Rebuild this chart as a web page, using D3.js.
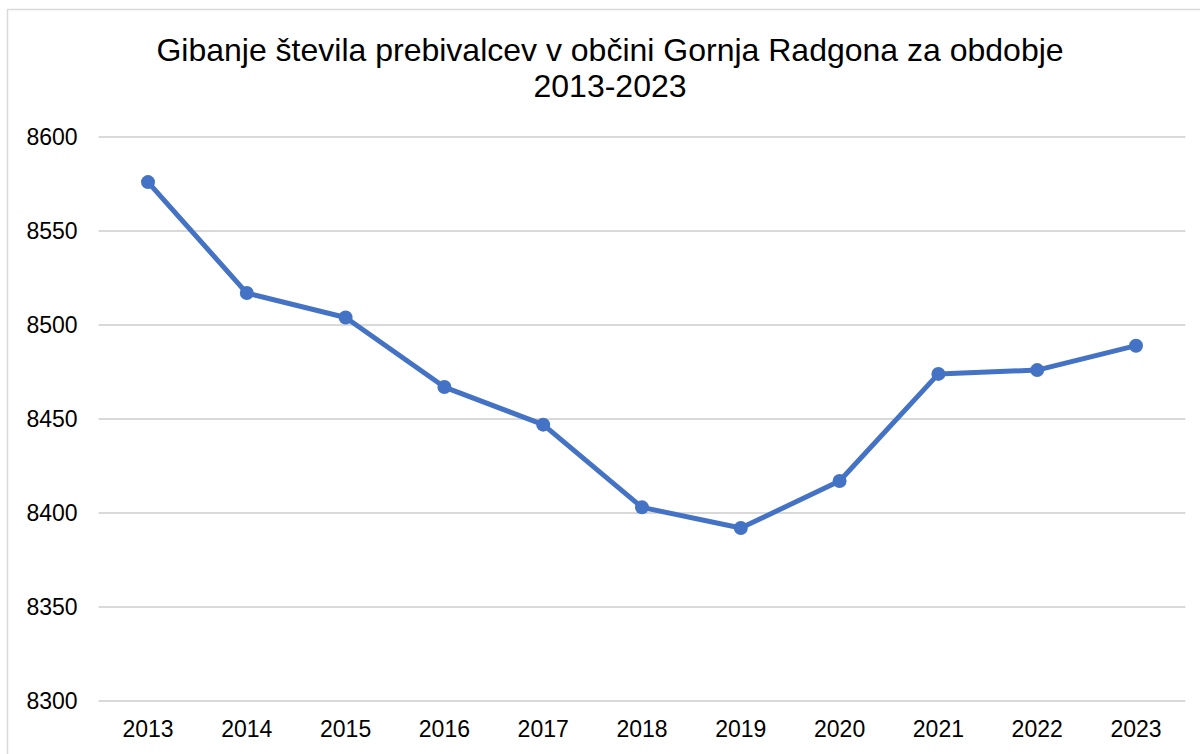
<!doctype html>
<html>
<head>
<style type="text/css">
body { margin: 0; background: #fff; }
text { font-family: "Liberation Sans", Arial, sans-serif; fill: #000; }
.title { font-size: 32px; text-anchor: middle; }
</style>
</head>
<body>
<svg width="1200" height="754"></svg>
<script src="https://d3js.org/d3.v7.min.js"></script>
<script>
var years = ["2013","2014","2015","2016","2017","2018","2019","2020","2021","2022","2023"];
var population = [8576, 8517, 8504, 8467, 8447, 8403, 8392, 8417, 8474, 8476, 8489];
var yTicks = [8300, 8350, 8400, 8450, 8500, 8550, 8600];

var svg = d3.select("svg");

// chart area border
svg.append("rect")
    .attr("x", 7.5).attr("y", 9.5)
    .attr("width", 1200).attr("height", 760)
    .attr("fill", "none")
    .attr("stroke", "#d9d9d9")
    .attr("stroke-width", 1.5);

var plotLeft = 98.6, plotRight = 1185.4, plotTop = 137, plotBottom = 701;

var x = d3.scaleBand().domain(years).range([plotLeft, plotRight]);
var y = d3.scaleLinear().domain([8300, 8600]).range([plotBottom, plotTop]);

svg.append("g")
    .selectAll("line")
    .data(yTicks)
    .enter().append("line")
    .attr("x1", plotLeft).attr("x2", plotRight)
    .attr("y1", function(d){ return y(d); })
    .attr("y2", function(d){ return y(d); })
    .attr("stroke", "#d9d9d9")
    .attr("stroke-width", 2);

var yAxis = svg.append("g")
    .attr("transform", "translate(" + plotLeft + ",0)")
    .call(d3.axisLeft(y).tickValues(yTicks).tickFormat(d3.format("d")).tickSize(0).tickPadding(21));
yAxis.select(".domain").remove();

var xAxis = svg.append("g")
    .attr("transform", "translate(0," + plotBottom + ")")
    .call(d3.axisBottom(x).tickSize(0).tickPadding(20));
xAxis.select(".domain").remove();

svg.selectAll(".tick text")
    .attr("fill", "#000")
    .style("font-family", "'Liberation Sans', Arial, sans-serif")
    .style("font-size", "23px");

var line = d3.line()
    .x(function(d, i){ return x(years[i]) + x.bandwidth() / 2; })
    .y(function(d){ return y(d); });

svg.append("path")
    .datum(population)
    .attr("d", line)
    .attr("fill", "none")
    .attr("stroke", "#4472C4")
    .attr("stroke-width", 5)
    .attr("stroke-linejoin", "round");

svg.append("g")
    .selectAll("circle")
    .data(population)
    .enter().append("circle")
    .attr("cx", function(d, i){ return x(years[i]) + x.bandwidth() / 2; })
    .attr("cy", function(d){ return y(d); })
    .attr("r", 7)
    .attr("fill", "#4472C4");

svg.append("text").attr("class", "title")
    .attr("x", 610).attr("y", 61)
    .text("Gibanje števila prebivalcev v občini Gornja Radgona za obdobje");
svg.append("text").attr("class", "title")
    .attr("x", 610).attr("y", 97)
    .text("2013-2023");
</script>
</body>
</html>
